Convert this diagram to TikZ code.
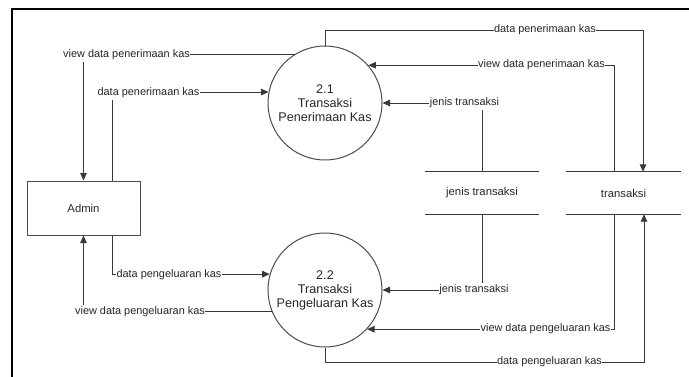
\documentclass[tikz,border=0pt]{standalone}
\usepackage{fontspec}
\setmainfont{Liberation Sans}
\usetikzlibrary{arrows.meta,calc}
\begin{document}
\begin{tikzpicture}[x=1pt,y=-1pt,
  line/.style={draw=black!78, line width=0.9pt},
  flow/.style={line, -{Triangle[length=7.5pt,width=6.5pt]}},
  proc/.style={circle, draw=black!70, line width=1pt, minimum size=114pt,
    inner sep=0pt, align=center, font=\fontsize{12.6}{14}\selectfont, text=black!85},
  entity/.style={rectangle, draw=black!70, line width=1pt, minimum width=113pt,
    minimum height=54pt, font=\fontsize{11.3}{13}\selectfont, text=black!85},
  store/.style={minimum width=114pt, minimum height=42pt, inner sep=0pt,
    font=\fontsize{11.3}{13}\selectfont, text=black!85},
  lbl/.style={fill=white, inner xsep=0.5pt, inner ysep=1.5pt,
    font=\fontsize{10.9}{12}\selectfont, text=black!85,
    text height=7.9pt, text depth=2.3pt},
]
\useasboundingbox (0,0) rectangle (689,376);

% page frame
\draw[black, line width=2pt] (12,385) -- (12,9) -- (700,9);

% entity, processes and data stores
\node[entity] (admin) at (83.5,208) {Admin};
\node[proc] (p21) at (325,103) {2.1\\Transaksi\\Penerimaan Kas};
\node[proc] (p22) at (325,290) {2.2\\Transaksi\\Pengeluaran Kas};
\node[store] (s1) at (482,193) {jenis transaksi};
\node[store] (s2) at (623.5,193) {transaksi};
\draw[line] (s1.north west) -- (s1.north east) (s1.south west) -- (s1.south east);
\draw[line] (s2.north west) -- (s2.north east) (s2.south west) -- (s2.south east);

% bend points of the routed flows
\coordinate (r1) at (643,30);
\coordinate (r2) at (614,65);
\coordinate (r5) at (614,329);
\coordinate (r6) at (644,362);
\coordinate (l8) at (112,93);
\coordinate (l9) at (112,275);

% flows on the store side
\draw[flow] (p21.north) |- (r1) -- (r1 |- s2.north);
\draw[flow] (r2 |- s2.north) |- (p21.41.8);
\draw[flow] (s1.north) |- (p21.east);
\draw[flow] (s1.south) |- (p22.east);
\draw[flow] (r5 |- s2.south) |- (p22.-43.2);
\draw[flow] (p22.south) |- (r6) -- (r6 |- s2.south);

% flows on the admin side
\draw[flow] (p21.122.6) -| (admin.north);
\draw[flow] (l8 |- admin.north) |- (p21.169.9);
\draw[flow] (l9 |- admin.south) |- (p22.164.7);
\draw[flow] (p22.202.7) -| (admin.south);

% flow labels
\node[lbl] (t1) at (545,30) {data penerimaan kas};
\node[lbl] (t2) at (541.5,65) {view data penerimaan kas};
\node[lbl] (t3) at (464.5,103) {jenis transaksi};
\node[lbl] (t4) at (474,290) {jenis transaksi};
\node[lbl] (t5) at (545.5,329) {view data pengeluaran kas};
\node[lbl] (t6) at (549.5,362) {data pengeluaran kas};
\node[lbl] (t7) at (126.5,55) {view data penerimaan kas};
\node[lbl] (t8) at (148.5,93) {data penerimaan kas};
\node[lbl] (t9) at (169,275) {data pengeluaran kas};
\node[lbl] (t10) at (140,312) {view data pengeluaran kas};
\end{tikzpicture}
\end{document}
